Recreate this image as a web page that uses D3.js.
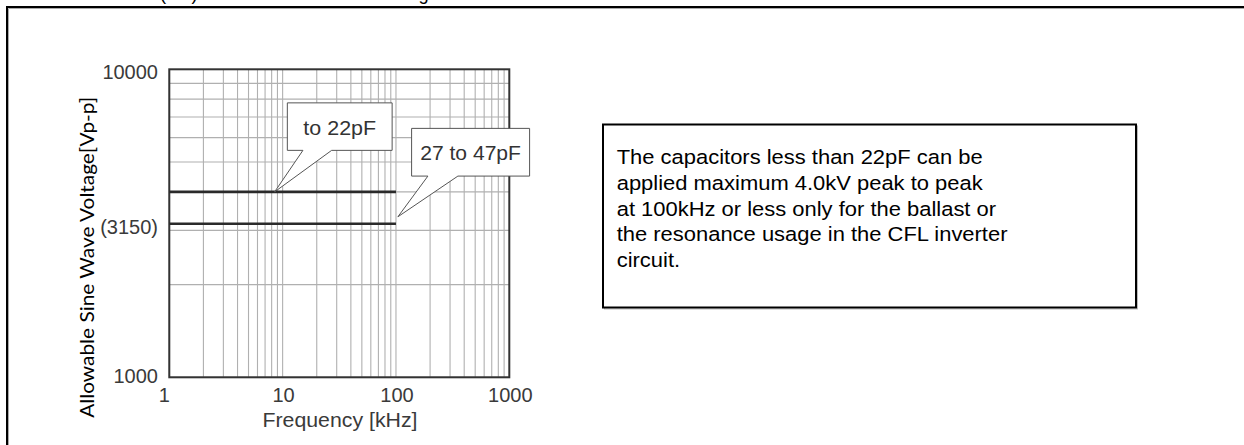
<!DOCTYPE html>
<html><head><meta charset="utf-8">
<script src="https://cdn.jsdelivr.net/npm/d3@7/dist/d3.min.js"></script>
<style>
html,body{margin:0;padding:0;background:#fff;}
svg{display:block;}
</style></head>
<body>
<svg id="c" width="1244" height="445"></svg>
<script>
// ---- data ----
const xTickValues = [1, 10, 100, 1000];
const xTickLabels = ["1", "10", "100", "1000"];
const yTickValues = [10000, 3150, 1000];
const yTickLabels = ["10000", "(3150)", "1000"];
const seriesNames = ["to 22pF", "27 to 47pF"];
const seriesFreqStart = [1, 1];
const seriesFreqEnd = [100, 100];
const seriesVoltage = [4000, 3150];
const calloutTipFreq = [8.5, 104];
const calloutTipVoltage = [4000, 3320];
const xTitle = "Frequency [kHz]";
const yTitle = "Allowable Sine Wave Voltage[Vp-p]";
const topTitle = "(AC) Allowable Sine Wave Voltage";
const noteLines = [
  "The capacitors less than 22pF can be",
  "applied maximum 4.0kV peak to peak",
  "at 100kHz or less only for the ballast or",
  "the resonance usage in the CFL inverter",
  "circuit."
];

// ---- layout ----
const svg = d3.select("#c");
const L = 169.3, R = 509.3, T = 69.3, B = 377.3;
const x = d3.scaleLog().domain([1, 1000]).range([L, R]);
const y = d3.scaleLog().domain([1000, 10000]).range([B, T]);
const AX = "'Liberation Sans', Arial, Helvetica, sans-serif";

svg.append("rect").attr("width", 1244).attr("height", 445).attr("fill", "#fff");

// title clipped at the very top (as in the reference)
svg.append("text").attr("x", 160).attr("y", -0.5)
  .attr("font-family", AX).attr("font-size", 18.3).attr("fill", "#000")
  .text(topTitle);

// outer frame
svg.append("path").attr("d", "M8.5,445V8.5H1244").attr("fill", "none").attr("stroke", "#aaa").attr("stroke-width", 1);
svg.append("path").attr("d", "M7,445V7H1244").attr("fill", "none").attr("stroke", "#000").attr("stroke-width", 2);

// grid
const gx = [];
for (let k = 0; k < 3; k++) for (let d = 1; d <= 9; d++) gx.push(d * Math.pow(10, k));
const gy = [];
for (let d = 1; d <= 9; d++) gy.push(d * 1000);
const grid = svg.append("g").attr("stroke", "#b0b0b0").attr("stroke-width", 1.1);
grid.selectAll("line.v").data(gx).join("line")
  .attr("x1", d => x(d)).attr("x2", d => x(d)).attr("y1", T).attr("y2", B);
grid.selectAll("line.h").data(gy).join("line")
  .attr("x1", L).attr("x2", R).attr("y1", d => y(d)).attr("y2", d => y(d));

// frame
svg.append("rect").attr("x", L).attr("y", T).attr("width", R - L).attr("height", B - T)
  .attr("fill", "none").attr("stroke", "#333").attr("stroke-width", 2);

// series
svg.selectAll("line.s").data(seriesVoltage).join("line")
  .attr("x1", (d, i) => x(seriesFreqStart[i])).attr("x2", (d, i) => x(seriesFreqEnd[i]))
  .attr("y1", d => y(d)).attr("y2", d => y(d))
  .attr("stroke", "#2a2a2a").attr("stroke-width", 2.6);

// x tick labels
svg.selectAll("text.xt").data(xTickValues).join("text")
  .attr("x", (d, i) => x(d) + (i === 0 ? -5 : 1))
  .attr("y", B + 25)
  .attr("text-anchor", "middle").attr("font-family", AX).attr("font-size", 20).attr("fill", "#3a3a3a")
  .text((d, i) => xTickLabels[i]);

// y tick labels
svg.selectAll("text.yt").data(yTickValues).join("text")
  .attr("x", 158)
  .attr("y", (d, i) => y(d) + (i === yTickValues.length - 1 ? 6 : 10))
  .attr("text-anchor", "end").attr("font-family", AX).attr("font-size", 20).attr("fill", "#3a3a3a")
  .text((d, i) => yTickLabels[i]);

// axis titles
svg.append("text").attr("x", 340).attr("y", 427)
  .attr("text-anchor", "middle").attr("font-family", AX).attr("font-size", 20).attr("fill", "#3a3a3a")
  .attr("textLength", 155).attr("lengthAdjust", "spacingAndGlyphs")
  .text(xTitle);
svg.append("text").attr("transform", "translate(94,257.3) rotate(-90)")
  .attr("text-anchor", "middle").attr("font-family", "Lato, 'Open Sans', sans-serif").attr("font-size", 19.5).attr("fill", "#000")
  .attr("textLength", 321).attr("lengthAdjust", "spacingAndGlyphs")
  .text(yTitle);

// callouts
const boxes = [
  {dx0: 12.7, dx1: 117.5, dy0: -89, dy1: -41.5, b0: 28.3, b1: 57, tl: 72.7},
  {dx0: 13.7, dx1: 131.7, dy0: -88.4, dy1: -40.7, b0: 30, b1: 60, tl: 100.7}
];
seriesNames.forEach((name, i) => {
  const tx = x(calloutTipFreq[i]), ty = y(calloutTipVoltage[i]);
  const b = boxes[i];
  const p = d3.path();
  p.moveTo(tx + b.dx0, ty + b.dy0);
  p.lineTo(tx + b.dx1, ty + b.dy0);
  p.lineTo(tx + b.dx1, ty + b.dy1);
  p.lineTo(tx + b.b1, ty + b.dy1);
  p.lineTo(tx, ty);
  p.lineTo(tx + b.b0, ty + b.dy1);
  p.lineTo(tx + b.dx0, ty + b.dy1);
  p.closePath();
  svg.append("path").attr("d", p.toString()).attr("fill", "#fff").attr("stroke", "#555").attr("stroke-width", 1);
  svg.append("text")
    .attr("x", tx + (b.dx0 + b.dx1) / 2).attr("y", ty + (b.dy0 + b.dy1) / 2 + 8)
    .attr("text-anchor", "middle").attr("font-family", AX).attr("font-size", 20).attr("fill", "#333")
    .attr("textLength", b.tl).attr("lengthAdjust", "spacingAndGlyphs")
    .text(name);
});

// note box
svg.append("rect").attr("x", 604.5).attr("y", 126).attr("width", 533).attr("height", 183)
  .attr("fill", "none").attr("stroke", "#bbb").attr("stroke-width", 1);
svg.append("rect").attr("x", 603).attr("y", 124.5).attr("width", 533).attr("height", 183)
  .attr("fill", "#fff").attr("stroke", "#000").attr("stroke-width", 2);
const notes = svg.selectAll("text.note").data(noteLines).join("text")
  .attr("x", 616.7).attr("y", (d, i) => 164 + i * 25.75)
  .attr("font-family", AX).attr("font-size", 20.5).attr("fill", "#000")
  .text(d => d);
// uniform horizontal stretch so the first line spans like the reference
const firstLen = notes.nodes()[0].getComputedTextLength();
const k = 366 / firstLen;
notes.each(function () {
  const w = this.getComputedTextLength();
  d3.select(this).attr("textLength", w * k).attr("lengthAdjust", "spacingAndGlyphs");
});
</script>
</body></html>
